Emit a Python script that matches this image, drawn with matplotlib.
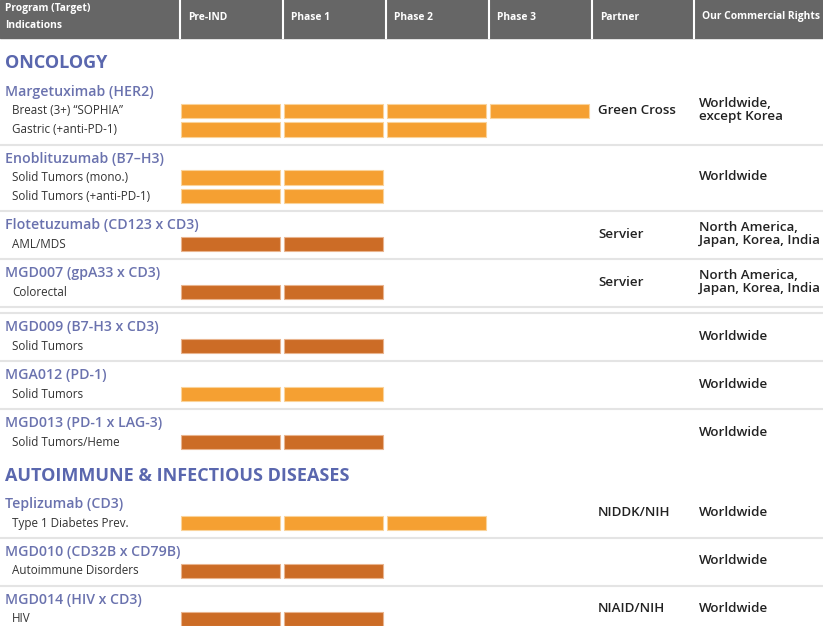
import matplotlib.pyplot as plt
from matplotlib.patches import Rectangle

plt.rcParams["font.family"] = ["Open Sans", "DejaVu Sans"]

# column headers
columns = ["Program (Target)\nIndications", "Pre-IND", "Phase 1", "Phase 2",
           "Phase 3", "Partner", "Our Commercial Rights"]
col_edges = [0, 181, 284, 387, 490, 593, 695, 823]

sections = ["ONCOLOGY", "AUTOIMMUNE & INFECTIOUS DISEASES"]
programs = [
    "Margetuximab (HER2)",
    "Enoblituzumab (B7\u2013H3)",
    "Flotetuzumab (CD123 x CD3)",
    "MGD007 (gpA33 x CD3)",
    "MGD009 (B7-H3 x CD3)",
    "MGA012 (PD-1)",
    "MGD013 (PD-1 x LAG-3)",
    "Teplizumab (CD3)",
    "MGD010 (CD32B x CD79B)",
    "MGD014 (HIV x CD3)",
]
program_section = [0, 0, 0, 0, 0, 0, 0, 1, 1, 1]
indications = [
    ["Breast (3+) \u201cSOPHIA\u201d", "Gastric (+anti-PD-1)"],
    ["Solid Tumors (mono.)", "Solid Tumors (+anti-PD-1)"],
    ["AML/MDS"],
    ["Colorectal"],
    ["Solid Tumors"],
    ["Solid Tumors"],
    ["Solid Tumors/Heme"],
    ["Type 1 Diabetes Prev."],
    ["Autoimmune Disorders"],
    ["HIV"],
]
# number of phase columns filled for each indication
phases_reached = [[4, 3], [2, 2], [2], [2], [2], [2], [2], [3], [2], [2]]
bar_tone = ["light", "light", "dark", "dark", "dark", "light", "dark",
            "light", "dark", "dark"]
partners = ["Green Cross", "", "Servier", "Servier", "", "", "",
            "NIDDK/NIH", "", "NIAID/NIH"]
rights = ["Worldwide,\nexcept Korea", "Worldwide",
          "North America,\nJapan, Korea, India",
          "North America,\nJapan, Korea, India",
          "Worldwide", "Worldwide", "Worldwide", "Worldwide", "Worldwide",
          "Worldwide"]
double_rule_after = [3]

tones = {"light": ("#F5A032", "#FAD39A"), "dark": ("#CC6C26", "#E9B48E")}
head_color = "#5A67AE"
prog_color = "#6A72AE"

fig = plt.figure(figsize=(8.23, 6.26), dpi=100)
ax = fig.add_axes([0, 0, 1, 1])
ax.set_xlim(0, 823)
ax.set_ylim(626, 0)
ax.axis("off")

# header bar
ax.add_patch(Rectangle((0, 0), 823, 38, color="#666666", zorder=1))
for xe in col_edges[1:-1]:
    ax.plot([xe - 1, xe - 1], [0, 38], color="white", lw=1.5, zorder=2)
for i, name in enumerate(columns):
    ax.text(col_edges[i] + (5 if i == 0 else 7), 17 if i == 0 else 17,
            name, color="white", fontsize=7.4, fontweight="bold",
            va="center", ha="left", linespacing=1.65, zorder=3)

y = 63
last_section = 0
ax.text(5, y, sections[0], fontsize=13, fontweight="bold", color=head_color,
        va="center")
y += 29
for p, name in enumerate(programs):
    if program_section[p] != last_section:
        last_section = program_section[p]
        y += 34
        ax.text(5, y, sections[last_section], fontsize=13, fontweight="bold",
                color=head_color, va="center")
        y += 28
    top = y
    ax.text(5, y, name, fontsize=10.2, fontweight="semibold", color=prog_color,
            va="center")
    y += 19
    for k, ind in enumerate(indications[p]):
        if k:
            y += 18.5
        ax.text(12, y, ind, fontsize=8.4, color="#333333", va="center")
        n = phases_reached[p][k]
        face, edge = tones[bar_tone[p]]
        lefts = [col_edges[j + 1] for j in range(n)]
        ax.barh([y] * n, [99] * n, left=lefts, height=14.5, color=face,
                edgecolor=edge, linewidth=0.8, zorder=2)
    mid = (top + y) / 2 - 0.5
    if partners[p]:
        ax.text(598, mid, partners[p], fontsize=9.6, color="#222222",
                fontweight="semibold", va="center")
    ax.text(699, mid, rights[p], fontsize=9.6, color="#222222",
            fontweight="semibold", va="center", linespacing=1.0)
    nxt = program_section[p + 1] if p + 1 < len(programs) else None
    if nxt == program_section[p]:
        y += 15
        ax.plot([0, 823], [y, y], color="#E4E4E4", lw=1.5, zorder=1)
        if p in double_rule_after:
            y += 6
            ax.plot([0, 823], [y, y], color="#E4E4E4", lw=1.5, zorder=1)
        y += 14

fig.savefig("out.png", dpi=100)
